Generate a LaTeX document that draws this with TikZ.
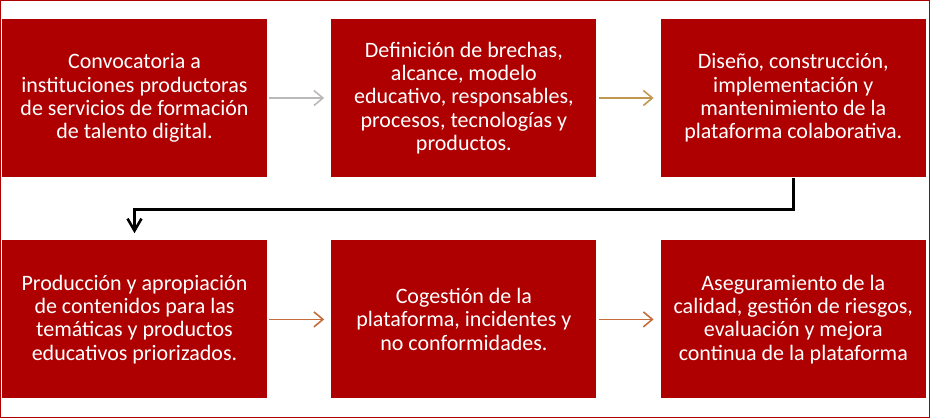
\documentclass[tikz,border=0pt]{standalone}
\usepackage{fontspec}
\setmainfont{Carlito}
\usetikzlibrary{arrows.meta,positioning}
\definecolor{wine}{RGB}{174,0,0}
\definecolor{fog}{RGB}{185,185,185}
\definecolor{sand}{RGB}{192,152,80}
\definecolor{rust}{RGB}{196,108,58}
\tikzset{
  stage/.style={fill=wine,text=white,minimum width=265pt,minimum height=158pt,
    inner sep=0pt,align=center,font=\fontsize{22}{23.3}\selectfont},
  link/.style={-{Straight Barb[length=9pt,width=15pt]},line width=1.6pt,draw=#1,
    shorten <=2pt,shorten >=7pt},
  link/.default=rust,
  turn/.style={-{Straight Barb[length=12pt,width=14pt]},line width=2.6pt,draw=black,
    shorten <=1pt,shorten >=7pt},
}

\begin{document}
\begin{tikzpicture}[x=1pt,y=-1pt]
  \useasboundingbox (0,0) rectangle (930,418);
  \draw[wine,line width=1.1pt] (0.6,0.6) rectangle (929.4,417.4);
  % top row
  \node[stage] (conv) at (134.5,98) {Convocatoria a\\instituciones productoras\\de servicios de formación\\de talento digital.};
  \node[stage,right=64pt of conv] (defi) {Definición de brechas,\\alcance, modelo\\educativo, responsables,\\procesos, tecnologías y\\productos.};
  \node[stage,right=64pt of defi] (dise) {Diseño, construcción,\\implementación y\\mantenimiento de la\\plataforma colaborativa.};
  % bottom row
  \node[stage,below=63pt of conv] (prod) {Producción y apropiación\\de contenidos para las\\temáticas y productos\\educativos priorizados.};
  \node[stage,right=64pt of prod] (coge) {Cogestión de la\\plataforma, incidentes y\\no conformidades.};
  \node[stage,right=64pt of coge] (aseg) {Aseguramiento de la\\calidad, gestión de riesgos,\\evaluación y mejora\\continua de la plataforma};
  % connectors
  \draw[link=fog] (conv) -- (defi);
  \draw[link=sand] (defi) -- (dise);
  \draw[turn] (dise.south) -- ++(0,32) -| (prod.north);
  \draw[link] (prod) -- (coge);
  \draw[link] (coge) -- (aseg);
\end{tikzpicture}
\end{document}
